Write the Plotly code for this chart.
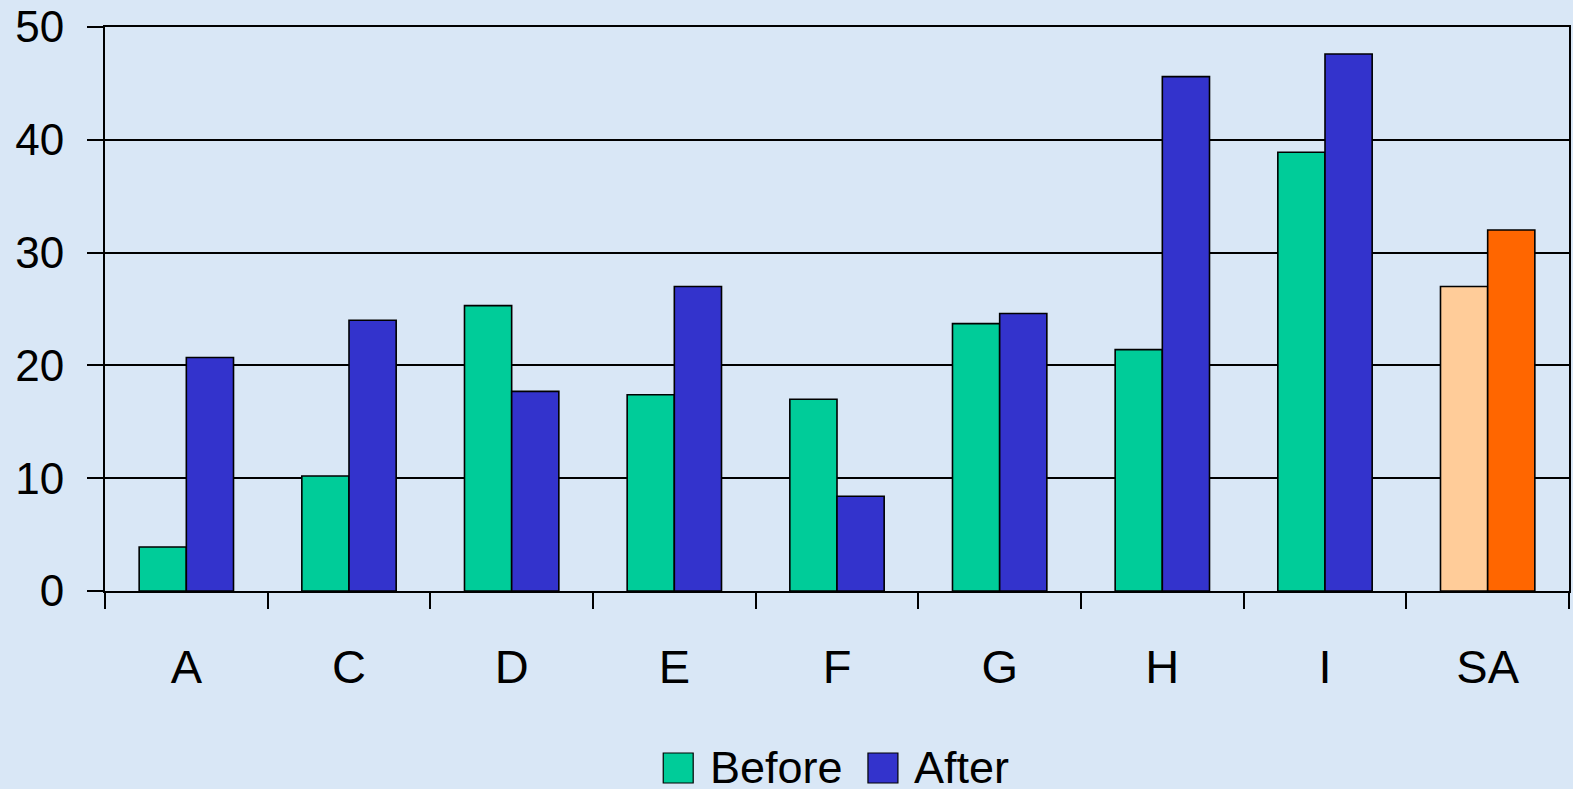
import plotly.graph_objects as go

categories = ["A", "C", "D", "E", "F", "G", "H", "I", "SA"]
before = [3.9, 10.2, 25.3, 17.4, 17.0, 23.7, 21.4, 38.9, 27.0]
after = [20.7, 24.0, 17.7, 27.0, 8.4, 24.6, 45.6, 47.6, 32.0]
series_names = ["Before", "After"]
before_colors = ["#00CC99"] * 8 + ["#FFCC99"]
after_colors = ["#3333CC"] * 8 + ["#FF6600"]
legend_colors = ["#00CC99", "#3333CC"]

W, H = 1573, 789
L, R, T, B = 105, 2, 27, 198
pw, ph = W - L - R, H - T - B
FONT = "Arial, Liberation Sans, sans-serif"

fig = go.Figure()
fig.add_trace(go.Bar(x=categories, y=before, name=series_names[0],
                     marker=dict(color=before_colors, line=dict(color="black", width=1.6))))
fig.add_trace(go.Bar(x=categories, y=after, name=series_names[1],
                     marker=dict(color=after_colors, line=dict(color="black", width=1.6))))

def px_x(px):
    return (px - L) / pw

def px_y(py):
    return (H - B - py) / ph

# legend drawn manually (large swatches)
shapes = []
annotations = []
legend_items = [(664, 709), (869, 913)]
for (sx, tx), name, col in zip(legend_items, series_names, legend_colors):
    shapes.append(dict(type="rect", xref="paper", yref="paper",
                       x0=px_x(sx), x1=px_x(sx + 30), y0=px_y(783), y1=px_y(753),
                       fillcolor=col, line=dict(color="black", width=1.2)))
    annotations.append(dict(xref="paper", yref="paper", x=px_x(tx), y=px_y(767),
                            text=name, showarrow=False, xanchor="left", yanchor="middle",
                            font=dict(family=FONT, size=45, color="black")))

fig.update_layout(
    width=W, height=H,
    margin=dict(l=L, r=R, t=T, b=B, pad=0),
    paper_bgcolor="#D9E7F6",
    plot_bgcolor="#D9E7F6",
    barmode="group", bargap=0.42, bargroupgap=0,
    showlegend=False,
    shapes=shapes, annotations=annotations,
    font=dict(family=FONT, color="black"),
)
fig.update_xaxes(type="category", showgrid=False, showline=True, linecolor="black", linewidth=2,
                 mirror=True, ticks="outside", tickson="boundaries", ticklen=16, tickwidth=2,
                 tickcolor="black", tickfont=dict(family=FONT, size=47, color="black"),
                 ticklabelstandoff=34)
fig.update_yaxes(range=[0, 50], tickvals=[0, 10, 20, 30, 40, 50], showgrid=True,
                 gridcolor="black", gridwidth=1.6, showline=True, linecolor="black", linewidth=2,
                 mirror=True, ticks="outside", ticklen=16, tickwidth=2, tickcolor="black",
                 tickfont=dict(family=FONT, size=44, color="black"), ticklabelstandoff=14,
                 zeroline=False)

fig.write_html("out.html", config={"displayModeBar": False},
               post_script="document.body.style.margin='0';document.body.style.overflow='hidden';")
